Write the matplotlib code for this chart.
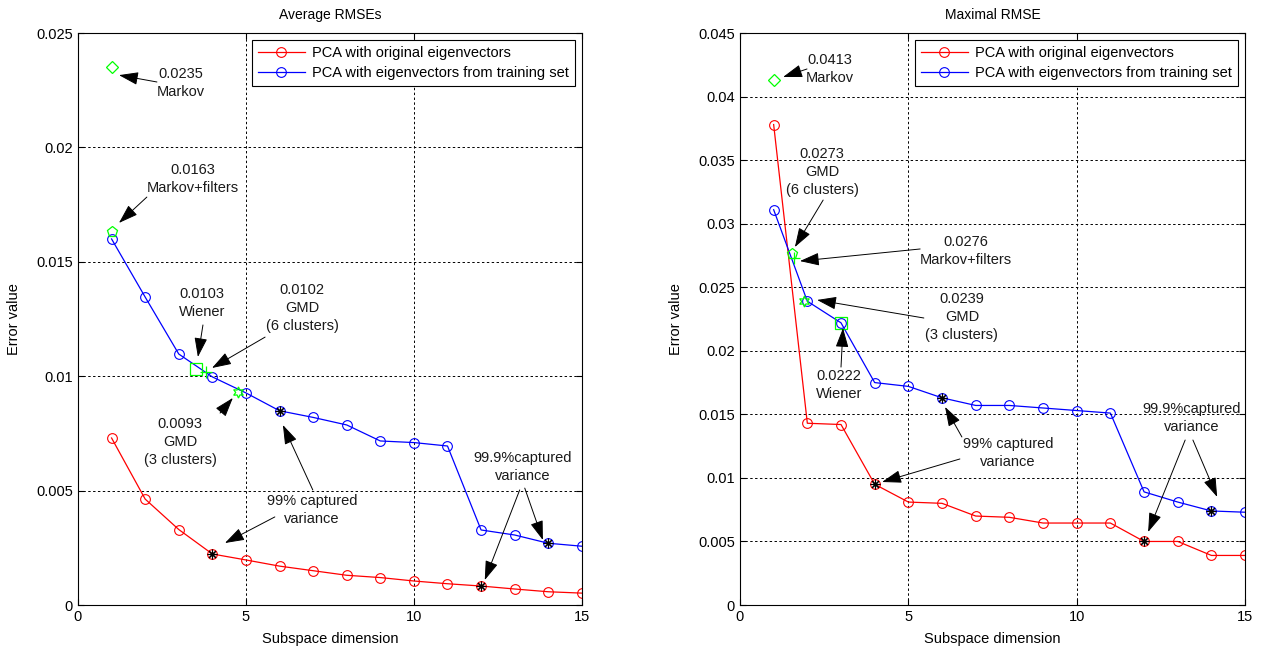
import matplotlib.pyplot as plt
import numpy as np

plt.rcParams['font.family'] = ['Liberation Sans', 'DejaVu Sans']
plt.rcParams['font.size'] = 10

dims = np.arange(1, 16)

# average RMSE per subspace dimension
avg_orig = [0.0073, 0.00463, 0.0033, 0.00223, 0.00197, 0.0017, 0.0015, 0.0013,
            0.0012, 0.00105, 0.00093, 0.00083, 0.0007, 0.00058, 0.00052]
avg_train = [0.0160, 0.01346, 0.01097, 0.00997, 0.00927, 0.00849, 0.0082, 0.00787,
             0.00717, 0.0071, 0.00695, 0.00328, 0.00306, 0.0027, 0.00257]

# maximal RMSE per subspace dimension
max_orig = [0.0378, 0.0143, 0.0142, 0.0095, 0.0081, 0.0080, 0.0070, 0.0069,
            0.00645, 0.00645, 0.00645, 0.0050, 0.0050, 0.0039, 0.0039]
max_train = [0.0311, 0.0239, 0.0222, 0.0175, 0.0172, 0.0163, 0.0157, 0.0157,
             0.0155, 0.0153, 0.0151, 0.0089, 0.0081, 0.0074, 0.0073]

# dimensions where 99% / 99.9% of the variance is captured
var_orig = [4, 12]
var_train = [6, 14]

# other methods (Markov, Markov+filters, Wiener, GMD 6, GMD 3)
avg_ref_x = [1, 1, 3.5, 3.8, 4.75]
avg_ref_y = [0.0235, 0.0163, 0.0103, 0.0102, 0.0093]
max_ref_x = [1, 1.55, 3.0, 1.6, 1.9]
max_ref_y = [0.0413, 0.0276, 0.0222, 0.0273, 0.0239]
ref_markers = ['D', 'p', 's', '+', (6, 1, 0)]
ref_sizes = [6.5, 8, 8.5, 9, 8]

labels = ['PCA with original eigenvectors', 'PCA with eigenvectors from training set']

# text: (label, text centre, [(arrow tail, arrow tip), ...])
avg_notes = [
    ('0.0235\nMarkov', (3.07, 0.02281), [((2.35, 0.02286), (1.22, 0.02316))]),
    ('0.0163\nMarkov+filters', (3.42, 0.01862), [((2.05, 0.01783), (1.22, 0.0167))]),
    ('0.0103\nWiener', (3.69, 0.0132), [((3.72, 0.01224), (3.57, 0.01084))]),
    ('0.0102\nGMD\n(6 clusters)', (6.67, 0.01298), [((5.57, 0.01171), (3.99, 0.01036))]),
    ('0.0093\nGMD\n(3 clusters)', (3.04, 0.00712), [((4.23, 0.00839), (4.61, 0.00905))]),
    ('99% captured\nvariance', (6.96, 0.00415), [((6.99, 0.00503), (6.1, 0.00787)),
                                               ((5.86, 0.00385), (4.375, 0.00271))]),
    ('99.9%captured\nvariance', (13.24, 0.00603), [((13.15, 0.00503), (12.11, 0.00109)),
                                                  ((13.3, 0.00511), (13.84, 0.00284))]),
]
max_notes = [
    ('0.0413\nMarkov', (2.67, 0.04217), [((1.99, 0.04217), (1.28, 0.04154))]),
    ('0.0273\nGMD\n(6 clusters)', (2.44, 0.03406), [((2.47, 0.03186), (1.63, 0.02816))]),
    ('0.0276\nMarkov+filters', (6.71, 0.02785), [((5.35, 0.02801), (1.78, 0.02706))]),
    ('0.0239\nGMD\n(3 clusters)', (6.59, 0.02266), [((5.46, 0.02258), (2.29, 0.024))]),
    ('0.0222\nWiener', (2.94, 0.01731), [((3.0, 0.01872), (3.06, 0.02179))]),
    ('99% captured\nvariance', (7.96, 0.01196), [((6.59, 0.01322), (6.09, 0.01558)),
                                               ((6.53, 0.01149), (4.22, 0.00968))]),
    ('99.9%captured\nvariance', (13.42, 0.01471), [((13.22, 0.01298), (12.12, 0.00574)),
                                                  ((13.45, 0.01298), (14.17, 0.0085))]),
]


def draw(ax, orig, train, ref_x, ref_y, notes, title, ymax):
    ax.plot(dims, orig, color='red', marker='o', mfc='none', ms=7, mew=0.8, lw=0.9,
            label=labels[0])
    ax.plot(dims, train, color='blue', marker='o', mfc='none', ms=7, mew=0.8, lw=0.9,
            label=labels[1])
    for d in var_orig:
        ax.plot(d, orig[d - 1], marker=(8, 2, 0), color='k', ms=7, mew=0.8)
    for d in var_train:
        ax.plot(d, train[d - 1], marker=(8, 2, 0), color='k', ms=7, mew=0.8)
    for x, y, m, s in zip(ref_x, ref_y, ref_markers, ref_sizes):
        ax.plot(x, y, marker=m, color='#00ff00', mfc='none', ms=s, mew=0.9)

    for txt, pos, arrows in notes:
        ax.text(pos[0], pos[1], txt, ha='center', va='center', multialignment='center',
                linespacing=1.35, fontsize=10.5, color='#1a1a1a')
        for tail, tip in arrows:
            ax.annotate('', xy=tip, xytext=tail,
                        arrowprops=dict(arrowstyle='-|>,head_length=1.2,head_width=0.4',
                                        color='k', lw=0.7, mutation_scale=10,
                                        shrinkA=0, shrinkB=0))

    ax.set_xlim(0, 15)
    ax.set_ylim(0, ymax)
    ax.set_xticks([0, 5, 10, 15])
    ax.set_yticks(np.arange(0, ymax + 1e-9, 0.005))
    ax.set_yticklabels([('%g' % v) for v in np.arange(0, ymax + 1e-9, 0.005)])
    ax.grid(True, color='k', linestyle=(0, (2.5, 2.5)), lw=0.7)
    ax.tick_params(direction='in', top=True, right=True, length=4, labelsize=10.5)
    for sp in ax.spines.values():
        sp.set_linewidth(0.8)
    ax.set_title(title, fontsize=10, pad=10)
    ax.set_xlabel('Subspace dimension', fontsize=10.5, labelpad=6)
    ax.set_ylabel('Error value', fontsize=10.5, labelpad=11)
    leg = ax.legend(loc='upper right', fontsize=10.5, handlelength=3.2, borderaxespad=0.5,
                    fancybox=False, edgecolor='k', framealpha=1, labelspacing=0.4,
                    borderpad=0.4, handletextpad=0.5)
    leg.get_frame().set_linewidth(0.8)


fig = plt.figure(figsize=(12.66, 6.5), dpi=100)
ax1 = fig.add_axes([0.0616, 0.0692, 0.398, 0.88])
ax2 = fig.add_axes([0.5845, 0.0692, 0.399, 0.88])

draw(ax1, avg_orig, avg_train, avg_ref_x, avg_ref_y, avg_notes, 'Average RMSEs', 0.025)
draw(ax2, max_orig, max_train, max_ref_x, max_ref_y, max_notes, 'Maximal RMSE', 0.045)

fig.savefig('out.png', dpi=100)
